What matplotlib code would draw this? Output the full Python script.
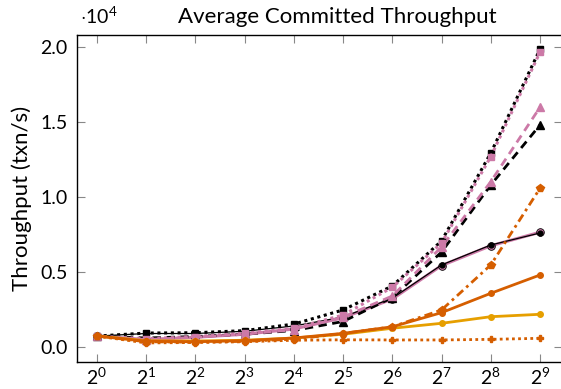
import numpy as np
import matplotlib
matplotlib.use("Agg")
from matplotlib import pyplot as plt
from matplotlib.ticker import FixedLocator, FixedFormatter

plt.rcParams["font.family"] = ["Lato", "DejaVu Sans"]
plt.rcParams["mathtext.fontset"] = "custom"
plt.rcParams["mathtext.rm"] = "Lato"
plt.rcParams["mathtext.it"] = "Lato:italic"

black = "#000000"
pink = "#CC79A7"
orange = "#D55E00"
yellow = "#E69F00"

threads = [1, 2, 4, 8, 16, 32, 64, 128, 256, 512]

black_dotted_sq = [730, 930, 950, 1090, 1530, 2470, 4070, 7070, 12930, 19850]
pink_dotted_sq = [730, 550, 700, 920, 1250, 2130, 3980, 6930, 12690, 19650]
pink_dashed_tri = [730, 500, 650, 850, 1150, 2000, 3400, 6670, 11020, 15980]
black_dashed_tri = [730, 600, 700, 850, 1100, 1700, 3300, 6330, 10800, 14800]
black_solid_circ = [730, 900, 900, 1050, 1400, 2000, 3250, 5470, 6800, 7600]
pink_solid_circ = [730, 500, 650, 850, 1200, 1950, 3200, 5430, 6750, 7650]
orange_dashdot = [730, 350, 320, 380, 520, 900, 1350, 2470, 5470, 10580]
orange_solid = [730, 380, 350, 420, 600, 910, 1350, 2290, 3580, 4800]
yellow_solid = [730, 420, 400, 450, 600, 850, 1250, 1580, 2020, 2180]
orange_dotted = [730, 270, 300, 350, 450, 480, 470, 470, 510, 580]

yticks = [0, 5000, 10000, 15000, 20000]
ytick_labels = ["0.0", "0.5", "1.0", "1.5", "2.0"]

fig = plt.figure(figsize=(5.61, 3.89), dpi=100)
ax = fig.add_axes([77 / 561, 27 / 389, 485 / 561, 327 / 389])

dotted = (0, (1, 1.2))
dashed = (0, (3, 2))
dashdot = (0, (3, 1.5, 1, 1.5))

ax.plot(threads, pink_solid_circ, color=pink, lw=2.2, marker="o", ms=5.5, mec=black, mew=0.6)
ax.plot(threads, black_solid_circ, color=black, lw=0.9, marker="o", ms=3.5)
ax.plot(threads, black_dashed_tri, color=black, lw=2, ls=dashed, marker="^", ms=6)
ax.plot(threads, pink_dashed_tri, color=pink, lw=2, ls=dashed, marker="^", ms=6)
ax.plot(threads, black_dotted_sq, color=black, lw=2.2, ls=dotted, marker="s", ms=5)
ax.plot(threads, pink_dotted_sq, color=pink, lw=2.2, ls=dotted, marker="s", ms=5)
ax.plot(threads, orange_dotted, color=orange, lw=2, ls=dotted, marker="P", ms=5)
ax.plot(threads, yellow_solid, color=yellow, lw=2, marker="o", ms=4)
ax.plot(threads, orange_solid, color=orange, lw=2, marker="o", ms=4)
ax.plot(threads, orange_dashdot, color=orange, lw=2, ls=dashdot, marker="p", ms=6)

ax.set_xscale("log", base=2)
ax.set_xlim(2 ** -0.406, 2 ** 9.447)
ax.set_ylim(-1000, 20800)
ax.set_xticks(threads)
ax.minorticks_off()
ax.yaxis.set_major_locator(FixedLocator(yticks))
ax.yaxis.set_major_formatter(FixedFormatter(ytick_labels))

ax.tick_params(axis="both", which="major", direction="in", length=6, width=0.8,
               color="#888888", labelsize=14, top=True, right=True)
ax.tick_params(axis="x", pad=3)
ax.tick_params(axis="y", pad=7)
for s in ax.spines.values():
    s.set_linewidth(1.0)

ax.set_ylabel("Throughput (txn/s)", fontsize=16, labelpad=6)
ax.text(0.006, 1.025, r"$\cdot 10^4$", transform=ax.transAxes, fontsize=14, ha="left", va="bottom")
fig.text(337 / 561, 1 - 17 / 389, "Average Committed Throughput", fontsize=16, ha="center", va="center")

fig.savefig("out.png", dpi=100)
